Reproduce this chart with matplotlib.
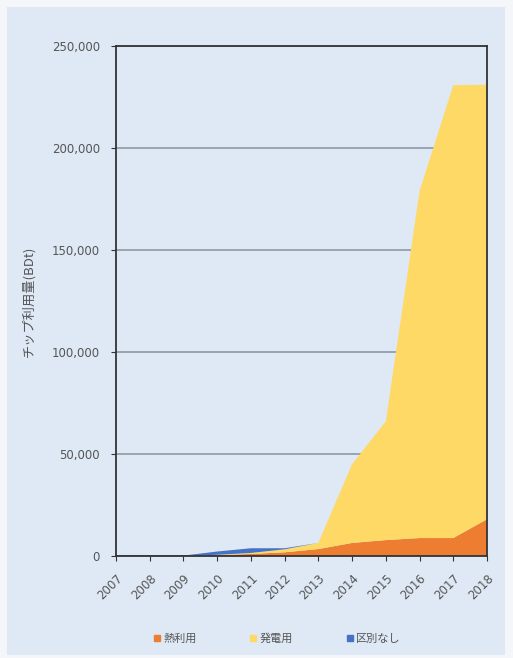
import matplotlib
matplotlib.use("Agg")
import matplotlib.pyplot as plt
from matplotlib.patches import Rectangle
from matplotlib.lines import Line2D
from matplotlib.ticker import FuncFormatter

plt.rcParams['font.family'] = ['Noto Sans CJK JP', 'DejaVu Sans']

years = [2007, 2008, 2009, 2010, 2011, 2012, 2013, 2014, 2015, 2016, 2017, 2018]
heat = [0, 0, 0, 400, 1000, 1800, 3400, 6400, 7800, 8800, 8800, 18000]
power = [0, 0, 0, 200, 500, 1500, 3000, 38600, 58200, 170000, 222000, 213000]
unspecified = [300, 300, 200, 1600, 2300, 500, 0, 0, 0, 0, 0, 0]
labels = ['熱利用', '発電用', '区別なし']
colors = ['#ED7D31', '#FFD966', '#4472C4']

fig = plt.figure(figsize=(5.13, 6.58), dpi=100, facecolor='#F4F6F9')
# light blue panel behind everything
panel = Rectangle((7 / 513, 3 / 658), 498 / 513, 648 / 658,
                  transform=fig.transFigure, facecolor='#DEE9F5',
                  edgecolor='none', zorder=-10)
fig.add_artist(panel)

ax = fig.add_axes([116 / 513, 1 - 556 / 658, 371 / 513, 510 / 658])
ax.set_zorder(1)
ax.set_facecolor('#DEE9F5')
ax.stackplot(years, heat, power, unspecified, colors=colors, zorder=3)

ax.set_xlim(2007, 2018)
ax.set_ylim(0, 250000)
ax.set_yticks(range(0, 250001, 50000))
ax.yaxis.set_major_formatter(FuncFormatter(lambda v, p: f'{int(v):,}'))
ax.set_xticks(years)
ax.set_xticklabels([str(y) for y in years], rotation=45, ha='right',
                   rotation_mode='anchor')
ax.tick_params(axis='both', colors='#333333', labelcolor='#555555',
               length=3.5, width=0.8)
ax.tick_params(axis='y', pad=8, labelsize=8.5)
ax.tick_params(axis='x', pad=8, labelsize=8.5)
for lbl in ax.get_xticklabels() + ax.get_yticklabels():
    lbl.set_family('DejaVu Sans')
ax.grid(axis='y', color='#8E99A6', linewidth=1.2, zorder=1)
for s in ax.spines.values():
    s.set_color('#333333')
    s.set_linewidth(1.3)
    s.set_zorder(4)

ax.set_ylabel('チップ利用量(BDt)', fontsize=9.5, color='#555555')
ax.yaxis.set_label_coords(-0.218, 0.5)

handles = [Line2D([], [], marker='s', linestyle='none', markersize=4.5,
                  markerfacecolor=c, markeredgecolor=c) for c in colors]
fig.legend(handles, labels, loc='center', bbox_to_anchor=(0.538, 0.03),
           ncol=3, frameon=False, fontsize=8, handletextpad=0.05,
           handlelength=1.0, columnspacing=4.6, labelcolor='#555555')

fig.savefig('out.png', dpi=100, facecolor=fig.get_facecolor())
